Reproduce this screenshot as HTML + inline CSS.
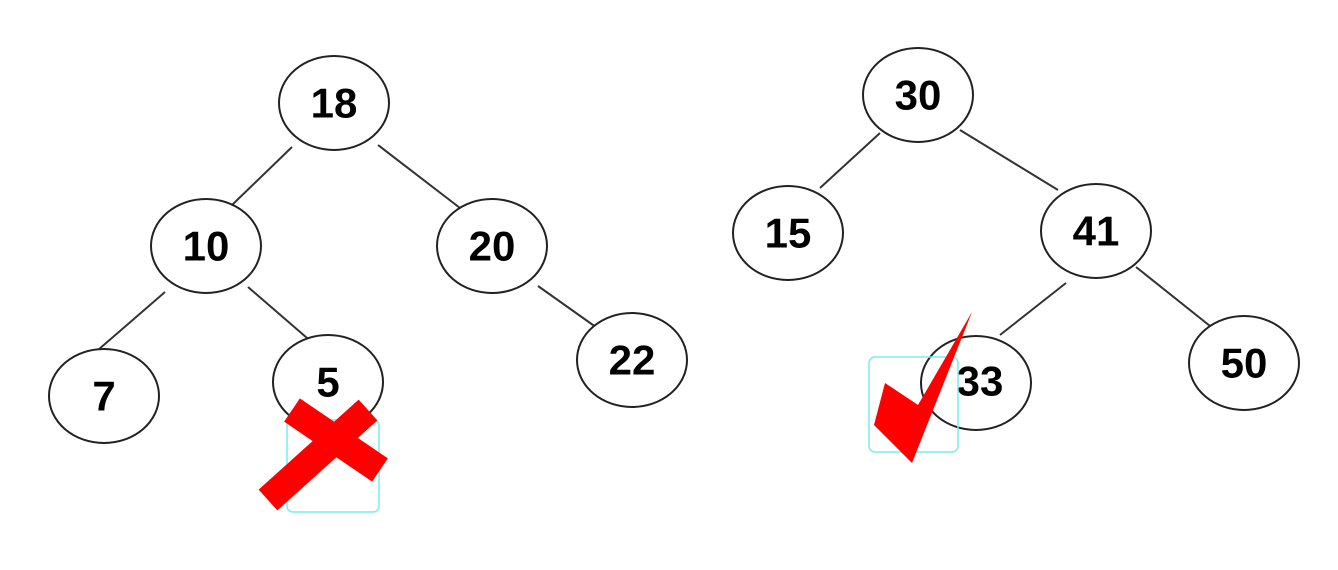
<!DOCTYPE html>
<html><head><style>body{margin:0;background:#fff}svg{display:block}text{font-family:"Liberation Sans",sans-serif;font-weight:bold;font-size:42px;text-anchor:middle;dominant-baseline:central}</style></head>
<body>
<svg width="1338" height="570" viewBox="0 0 1338 570">
<g stroke="#333" stroke-width="2">
<line x1="292" y1="147" x2="232" y2="205"/><line x1="378" y1="145" x2="460" y2="208"/>
<line x1="165" y1="292" x2="98" y2="350"/><line x1="248" y1="287" x2="314" y2="344"/>
<line x1="538" y1="286" x2="600" y2="330"/><line x1="880" y1="133" x2="820" y2="188"/>
<line x1="960" y1="130" x2="1058" y2="190"/><line x1="1066" y1="283" x2="1000" y2="335"/>
<line x1="1136" y1="267" x2="1210" y2="326"/>
</g>
<g fill="#fff" stroke="#222" stroke-width="2">
<ellipse cx="334" cy="103" rx="55" ry="47"/><ellipse cx="206" cy="246" rx="55" ry="47"/>
<ellipse cx="492" cy="246" rx="55" ry="47"/><ellipse cx="104" cy="396" rx="55" ry="47"/>
<ellipse cx="328" cy="382" rx="55" ry="47"/><ellipse cx="632" cy="360" rx="55" ry="47"/>
<ellipse cx="918" cy="95" rx="55" ry="47"/><ellipse cx="788" cy="233" rx="55" ry="47"/>
<ellipse cx="1096" cy="231" rx="55" ry="47"/><ellipse cx="976" cy="383" rx="55" ry="47"/>
<ellipse cx="1244" cy="363" rx="55" ry="47"/>
</g>
<g fill="#000">
<text x="334" y="103">18</text><text x="206" y="246">10</text><text x="492" y="246">20</text>
<text x="104" y="396">7</text><text x="328" y="382">5</text><text x="632" y="360">22</text>
<text x="918" y="95">30</text><text x="788" y="233">15</text><text x="1096" y="231">41</text>
<text x="980" y="381">33</text><text x="1244" y="363">50</text>
</g>
<rect x="287" y="420" width="92" height="92" rx="6" fill="none" stroke="#7ee" stroke-width="1.5"/>
<rect x="869" y="357" width="89" height="95" rx="6" fill="none" stroke="#7ee" stroke-width="1.5"/>
<g stroke="#f00" stroke-width="28">
<line x1="268" y1="500" x2="368" y2="410"/><line x1="292" y1="410" x2="380" y2="470"/>
</g>
<polygon points="885,383 874,425 912,463 972,312 918,405" fill="#f00"/>
</svg>
</body></html>
